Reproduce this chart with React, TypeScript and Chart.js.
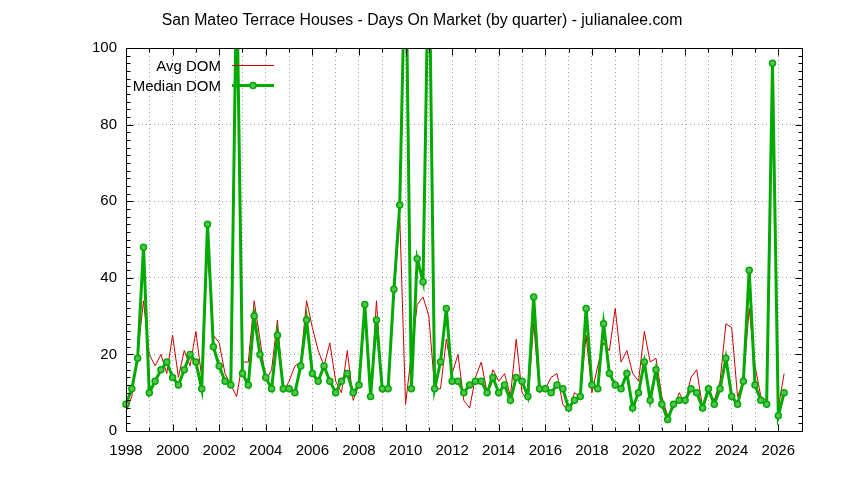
import React, { useEffect, useRef } from "react";
import { Chart, registerables } from "chart.js";

Chart.register(...registerables);

const chartTitle =
  "San Mateo Terrace Houses - Days On Market (by quarter) - julianalee.com";
const seriesNames = ["Avg DOM", "Median DOM"];

// one value per quarter, first one is 1998 Q1
const firstYear = 1998;
const yearRange = [1998, 2027];
const domRange = [0, 100];

const avgDom = [
  5, 9, 20, 34,
  20, 17, 20, 15,
  25, 14, 21, 17,
  26, 14, 47, 25,
  23, 15, 12, 9,
  18, 18, 34, 24,
  13, 16, 29, 10,
  13, 17, 18, 34,
  27, 21, 17, 23,
  13, 10, 21, 8,
  12, 30, 9, 34,
  10, 11, 35, 56,
  7, 20, 33, 35,
  30, 11, 11, 24,
  15, 20, 8, 6,
  14, 18, 10, 16,
  13, 15, 9, 24,
  10, 8, 28, 10,
  11, 14, 15, 7,
  5, 10, 9, 25,
  10, 17, 23, 21,
  32, 18, 21, 15,
  13, 26, 18, 19,
  9, 4, 6, 10,
  7, 14, 16, 6,
  10, 8, 13, 28,
  27, 9, 13, 32,
  17, 9, 8, 96,
  6, 15,
];

// the three off-scale spikes (2002 Q4, 2010 Q1, 2011 Q1) are guesses
const medianDom = [
  7, 11, 19, 48,
  10, 13, 16, 18,
  14, 12, 16, 20,
  18, 11, 54, 22,
  17, 13, 12, 120,
  15, 12, 30, 20,
  14, 11, 25, 11,
  11, 10, 17, 29,
  15, 13, 17, 13,
  10, 13, 15, 10,
  12, 33, 9, 29,
  11, 11, 37, 59,
  130, 11, 45, 39,
  130, 11, 18, 32,
  13, 13, 10, 12,
  13, 13, 10, 14,
  10, 12, 8, 14,
  13, 9, 35, 11,
  11, 10, 12, 11,
  6, 8, 9, 32,
  12, 11, 28, 15,
  12, 11, 15, 6,
  10, 18, 8, 16,
  7, 3, 7, 8,
  8, 11, 10, 6,
  11, 7, 11, 19,
  9, 7, 13, 42,
  12, 8, 7, 96,
  4, 10,
];

const FONT = '"Liberation Sans", Arial, sans-serif';
const RED = "#cc0000";
const GREEN = "#00aa00";
const GRID = "#a0a0a0";

const toPoints = (vals: number[]) =>
  vals.map((v, i) => ({ x: firstYear + i / 4, y: v }));

// gnuplot look: title, box frame with inward ticks, key in the top left
const gnuplotPlugin = {
  id: "gnuplotLook",
  afterDraw(chart: any) {
    const { ctx, chartArea: a, scales } = chart;
    const xs = scales.x;
    const ys = scales.y;
    const L = Math.round(a.left) + 0.5;
    const R = Math.round(a.right) + 0.5;
    const T = Math.round(a.top) + 0.5;
    const B = Math.round(a.bottom) + 0.5;

    ctx.save();
    ctx.strokeStyle = "#000";
    ctx.lineWidth = 1;
    ctx.strokeRect(L, T, R - L, B - T);

    ctx.beginPath();
    for (let yr = yearRange[0]; yr <= yearRange[1]; yr++) {
      const px = Math.round(xs.getPixelForValue(yr)) + 0.5;
      const len = yr % 2 === 0 ? 7 : 4;
      ctx.moveTo(px, B);
      ctx.lineTo(px, B - len);
      ctx.moveTo(px, T);
      ctx.lineTo(px, T + len);
    }
    for (let v = domRange[0]; v <= domRange[1]; v += 2) {
      const py = Math.round(ys.getPixelForValue(v)) + 0.5;
      const len = v % 20 === 0 ? 7 : 4;
      ctx.moveTo(L, py);
      ctx.lineTo(L + len, py);
      ctx.moveTo(R, py);
      ctx.lineTo(R - len, py);
    }
    ctx.stroke();

    ctx.fillStyle = "#000";
    ctx.font = `15.8px ${FONT}`;
    ctx.textAlign = "center";
    ctx.textBaseline = "alphabetic";
    ctx.fillText(chartTitle, 422, 25);

    // key
    const ds = chart.data.datasets;
    ctx.font = `15px ${FONT}`;
    ctx.textAlign = "right";
    const rows = [
      { ds: ds[1], y: 65.5 },
      { ds: ds[0], y: 85.5 },
    ];
    rows.forEach((r) => {
      ctx.fillStyle = "#000";
      ctx.fillText(r.ds.label, 221, r.y + 5.5);
      ctx.strokeStyle = r.ds.borderColor;
      ctx.lineWidth = r.ds.borderWidth;
      ctx.beginPath();
      ctx.moveTo(232, r.y);
      ctx.lineTo(274, r.y);
      ctx.stroke();
      if (r.ds.pointRadius > 0) {
        ctx.beginPath();
        ctx.arc(253, r.y, r.ds.pointRadius, 0, Math.PI * 2);
        ctx.fillStyle = r.ds.pointBackgroundColor;
        ctx.fill();
        ctx.lineWidth = r.ds.pointBorderWidth;
        ctx.strokeStyle = r.ds.pointBorderColor;
        ctx.stroke();
      }
    });
    ctx.restore();
  },
};

const DomChart = () => {
  const chartRef = useRef<HTMLCanvasElement>(null);

  useEffect(() => {
    document.body.style.margin = "0";
    if (!chartRef.current) return;
    const ctx = chartRef.current.getContext("2d");
    if (!ctx) return;

    const chart = new Chart(ctx, {
      type: "line",
      data: {
        datasets: [
          {
            label: seriesNames[1],
            data: toPoints(medianDom),
            borderColor: GREEN,
            borderWidth: 3,
            pointRadius: 3,
            pointBorderWidth: 1.5,
            pointBorderColor: GREEN,
            pointBackgroundColor: "#55c255",
            tension: 0,
            clip: { left: 6, right: 6, top: 0, bottom: 6 },
          },
          {
            label: seriesNames[0],
            data: toPoints(avgDom),
            borderColor: RED,
            borderWidth: 1,
            pointRadius: 0,
            tension: 0,
            clip: { left: 6, right: 6, top: 0, bottom: 6 },
          },
        ],
      },
      options: {
        animation: false,
        responsive: false,
        devicePixelRatio: 1,
        layout: { padding: { left: 0, top: 48, right: 42.4, bottom: 0 } },
        plugins: {
          legend: { display: false },
          title: { display: false },
          tooltip: { enabled: false },
        },
        scales: {
          x: {
            type: "linear",
            min: yearRange[0],
            max: yearRange[1],
            afterFit: (s: any) => {
              s.height = 49;
            },
            border: { display: false, dash: [1, 3] },
            grid: {
              drawTicks: false,
              color: (c: any) =>
                c.tick && c.tick.value > yearRange[0] && c.tick.value < yearRange[1]
                  ? GRID
                  : "transparent",
            },
            ticks: {
              stepSize: 1,
              autoSkip: false,
              maxRotation: 0,
              padding: 11,
              color: "#000",
              font: { family: FONT, size: 15 },
              callback: (v: any) => (Number(v) % 2 === 0 ? String(v) : ""),
            },
          },
          y: {
            min: domRange[0],
            max: domRange[1],
            afterFit: (s: any) => {
              s.width = 126;
            },
            border: { display: false, dash: [1, 3] },
            grid: {
              drawTicks: false,
              color: (c: any) =>
                c.tick &&
                c.tick.value % 20 === 0 &&
                c.tick.value > domRange[0] &&
                c.tick.value < domRange[1]
                  ? GRID
                  : "transparent",
            },
            ticks: {
              stepSize: 2,
              autoSkip: false,
              padding: 9,
              color: "#000",
              font: { family: FONT, size: 15 },
              callback: (v: any) => (Number(v) % 20 === 0 ? String(v) : ""),
            },
          },
        },
      },
      plugins: [gnuplotPlugin],
    });

    return () => {
      chart.destroy();
    };
  }, []);

  return (
    <div style={{ width: 844, height: 480 }}>
      <canvas ref={chartRef} width={844} height={480} />
    </div>
  );
};

export default DomChart;
